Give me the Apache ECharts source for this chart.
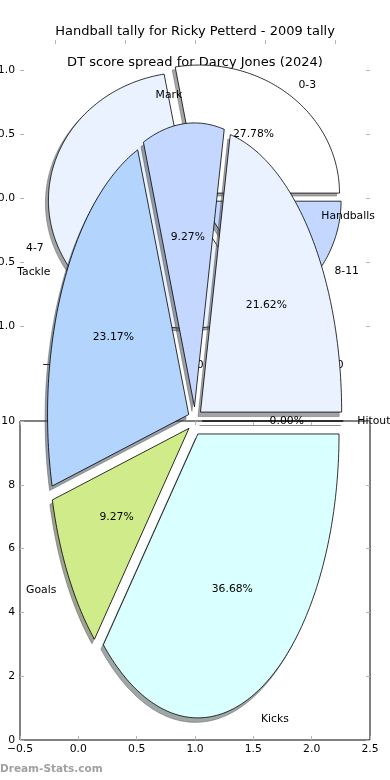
<!DOCTYPE html>
<html><head><meta charset="utf-8">
<script src="https://cdn.jsdelivr.net/npm/echarts@6/dist/echarts.min.js"></script>
<style>html,body{margin:0;padding:0;background:#fff}#c{width:390px;height:780px}</style>
</head><body><div id="c"></div>
<script>
// ---- Chart A: Handball tally ----
const titleA = 'Handball tally for Ricky Petterd - 2009 tally';
const catsA = ['Kicks', 'Goals', 'Tackle', 'Mark', 'Handballs', 'Hitout'];
const valsA = [36.68, 9.27, 23.17, 9.27, 21.62, 0];
const colorsA = ['#d9ffff', '#d0eb8a', '#b3d4fc', '#c4d8ff', '#eaf2ff', '#ffffff'];
const xTicksA = [-0.5, 0, 0.5, 1, 1.5, 2, 2.5];
const xLabelsA = ['−0.5', '0.0', '0.5', '1.0', '1.5', '2.0', '2.5'];
const yTicksA = [0, 2, 4, 6, 8, 10];
const yLabelsA = ['0', '2', '4', '6', '8', '10'];

// ---- Chart B: DT score spread ----
const titleB = 'DT score spread for Darcy Jones (2024)';
const catsB = ['0-3', '4-7', '8-11'];
const valsB = [5, 10, 3];
const colorsB = ['#ffffff', '#eaf2ff', '#c4d8ff'];
const xTicksB = [-1, -0.5, 0, 0.5, 1];
const xLabelsB = ['−1.0', '−0.5', '0.0', '0.5', '1.0'];
const yTicksB = [-1, -0.5, 0, 0.5, 1];
const yLabelsB = ['−1.0', '−0.5', '0.0', '0.5', '1.0'];

const watermark = 'Dream-Stats.com';

// geometry (layout / style)
const geoA = {cx: 1.0, cy: 10.0, rx: 1.21, ry: 8.9, start: 0, clockwise: true, explode: 0.05, shadow: [-2.5, 4.5]};
const geoB = {cx: 0, cy: 0, rx: 1, ry: 1, start: 0, clockwise: false, explode: 0.05, shadow: [-3, 3]};
const FONT = 'DejaVu Sans';
const FS = 10.8;

function wedges(vals, geo) {
  const sum = vals.reduce((a, b) => a + b, 0);
  let a = geo.start;
  return vals.map(v => {
    const span = v / sum * 360 * (geo.clockwise ? -1 : 1);
    const t1 = a, t2 = a + span; a = t2;
    const tm = (t1 + t2) / 2 * Math.PI / 180;
    return {
      t1, t2, tm,
      ox: geo.cx + geo.explode * geo.rx * Math.cos(tm),
      oy: geo.cy + geo.explode * geo.ry * Math.sin(tm),
      pct: (v / sum * 100).toFixed(2) + '%'
    };
  });
}
function wedgePts(api, w, geo, dx, dy) {
  const pts = [];
  const c = api.coord([w.ox, w.oy]);
  pts.push([c[0] + dx, c[1] + dy]);
  const n = Math.max(1, Math.ceil(Math.abs(w.t2 - w.t1)));
  for (let k = 0; k <= n; k++) {
    const t = (w.t1 + (w.t2 - w.t1) * k / n) * Math.PI / 180;
    const p = api.coord([w.ox + geo.rx * Math.cos(t), w.oy + geo.ry * Math.sin(t)]);
    pts.push([p[0] + dx, p[1] + dy]);
  }
  return pts;
}
function shadowColor(hex) {
  const r = parseInt(hex.slice(1, 3), 16), g = parseInt(hex.slice(3, 5), 16), b = parseInt(hex.slice(5, 7), 16);
  return 'rgba(' + Math.round(r * 0.3) + ',' + Math.round(g * 0.3) + ',' + Math.round(b * 0.3) + ',0.5)';
}
function pieSeries(xi, yi, vals, cats, colors, geo, z) {
  const ws = wedges(vals, geo);
  const common = {type: 'custom', coordinateSystem: 'cartesian2d', xAxisIndex: xi, yAxisIndex: yi,
    clip: false, silent: true, animation: false, data: vals.map((v, i) => [i, v])};
  return [
    Object.assign({}, common, {z: z, renderItem: (p, api) => {
      const col = shadowColor(colors[p.dataIndex]);
      return {type: 'polygon', shape: {points: wedgePts(api, ws[p.dataIndex], geo, geo.shadow[0], geo.shadow[1])},
        style: {fill: col, stroke: col, lineWidth: 0.8}};
    }}),
    Object.assign({}, common, {z: z + 1, renderItem: (p, api) => ({
      type: 'polygon', shape: {points: wedgePts(api, ws[p.dataIndex], geo, 0, 0)},
      style: {fill: colors[p.dataIndex], stroke: '#000', lineWidth: 0.8}
    })}),
    Object.assign({}, common, {z: z + 2, renderItem: (p, api) => {
      const w = ws[p.dataIndex];
      const lp = api.coord([w.ox + 1.1 * geo.rx * Math.cos(w.tm), w.oy + 1.1 * geo.ry * Math.sin(w.tm)]);
      const pp = api.coord([w.ox + 0.6 * geo.rx * Math.cos(w.tm), w.oy + 0.6 * geo.ry * Math.sin(w.tm)]);
      return {type: 'group', children: [
        {type: 'text', x: lp[0], y: lp[1], style: {text: cats[p.dataIndex], fill: '#000', font: FS + 'px "' + FONT + '"',
          align: Math.cos(w.tm) > 0 ? 'left' : 'right', verticalAlign: 'middle'}},
        {type: 'text', x: pp[0], y: pp[1], style: {text: w.pct, fill: '#000', font: FS + 'px "' + FONT + '"',
          align: 'center', verticalAlign: 'middle'}}
      ]};
    }})
  ];
}
function fmt(ticks, labels) {
  return v => { const i = ticks.findIndex(t => Math.abs(t - v) < 1e-6); return i >= 0 ? labels[i] : ''; };
}
const tickStyle = {show: true, inside: true, length: 4, lineStyle: {color: '#b4b4b4', width: 1}};
function axis(grid, min, max, ticks, labels, position, showLabel, margin) {
  return {type: 'value', gridIndex: grid, min: min, max: max, position: position,
    axisLine: {show: false, onZero: false}, splitLine: {show: false},
    axisTick: Object.assign({customValues: ticks}, tickStyle),
    axisLabel: {show: showLabel, customValues: ticks, formatter: fmt(ticks, labels), margin: margin,
      color: '#000', fontFamily: FONT, fontSize: FS}};
}

const chart = echarts.init(document.getElementById('c'), null, {renderer: 'canvas', width: 390, height: 780});
chart.setOption({
  animation: false,
  backgroundColor: '#fff',
  title: [
    {text: titleA, left: 'center', top: 25, padding: 0, textStyle: {fontFamily: FONT, fontSize: 13, fontWeight: 'normal', color: '#000'}},
    {text: titleB, left: 'center', top: 56, padding: 0, textStyle: {fontFamily: FONT, fontSize: 13, fontWeight: 'normal', color: '#000'}}
  ],
  grid: [
    {left: 20, top: 421, width: 350, height: 319, show: true, borderColor: '#000', borderWidth: 1, backgroundColor: 'transparent', containLabel: false, outerBoundsMode: 'none'},
    {left: 20, top: 40, width: 350, height: 316, show: false, containLabel: false, outerBoundsMode: 'none'}
  ],
  xAxis: [
    axis(0, -0.5, 2.5, xTicksA, xLabelsA, 'bottom', true, 4),
    axis(0, -0.5, 2.5, xTicksA, xLabelsA, 'top', false, 4),
    axis(1, -1.25, 1.25, xTicksB, xLabelsB, 'bottom', true, 4),
    axis(1, -1.25, 1.25, xTicksB, xLabelsB, 'top', false, 4)
  ],
  yAxis: [
    axis(0, 0, 10, yTicksA, yLabelsA, 'left', true, 5),
    axis(0, 0, 10, yTicksA, yLabelsA, 'right', false, 5),
    axis(1, -1.234, 1.234, yTicksB, yLabelsB, 'left', true, 5),
    axis(1, -1.234, 1.234, yTicksB, yLabelsB, 'right', false, 5)
  ],
  graphic: [
    {type: 'text', left: 0, top: 764, z: 100, style: {text: watermark, fill: '#a0a0a0', font: 'bold 10.5px "' + FONT + '"'}}
  ],
  series: [].concat(
    pieSeries(2, 2, valsB, catsB, colorsB, geoB, 10),
    pieSeries(0, 0, valsA, catsA, colorsA, geoA, 20)
  )
});
</script></body></html>
